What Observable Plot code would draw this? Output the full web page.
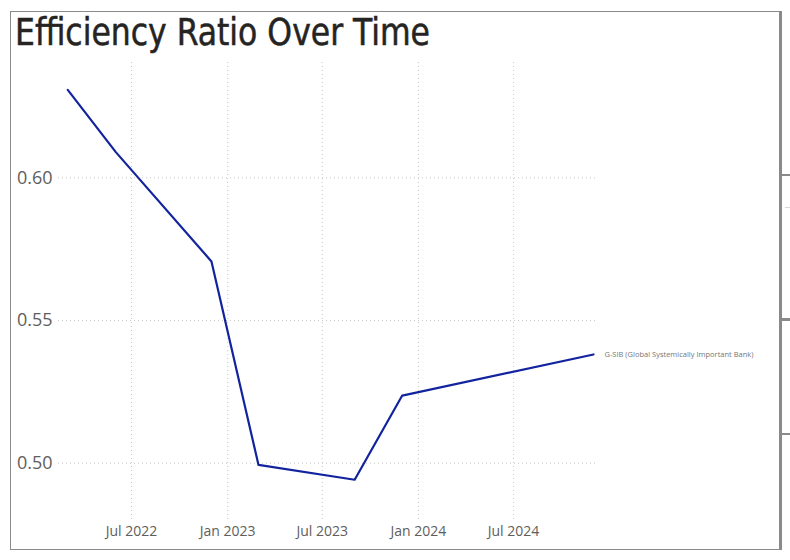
<!DOCTYPE html>
<html><head><meta charset="utf-8">
<script src="https://cdn.jsdelivr.net/npm/d3@7"></script>
<script src="https://cdn.jsdelivr.net/npm/@observablehq/plot@0.6"></script>
<style>
html,body{margin:0;padding:0;background:#fff}
body{width:790px;height:560px;overflow:hidden;position:relative;font-family:"Open Sans","Noto Sans",sans-serif}
#frame{position:absolute;left:10px;top:11px;width:769px;height:537px;border:1px solid #8a8a8a;border-right:none;box-sizing:content-box}
#rbar{position:absolute;left:779px;top:11px;width:3px;height:539px;background:#8a8a8a}
.tk{position:absolute;left:782px;width:8px;background:#8a8a8a}
#title{position:absolute;left:15px;top:11px;font-family:"DejaVu Sans Condensed","DejaVu Sans",sans-serif;font-size:37px;line-height:44px;color:#252423;white-space:nowrap;transform-origin:0 0;-webkit-text-stroke:0.5px #252423}
#chart{position:absolute;left:0;top:60px}
</style></head>
<body>
<div id="frame"></div>
<div id="rbar"></div>
<div class="tk" style="top:174px;height:2px"></div>
<div class="tk" style="top:207px;height:1px;left:785px;width:5px;background:#d8d8d8"></div>
<div class="tk" style="top:318px;height:3px"></div>
<div class="tk" style="top:433px;height:2px"></div>
<div id="title">Efficiency Ratio Over Time</div>
<div id="chart"></div>
<script>
// Data
const dates = ["2022-03-01","2022-06-01","2022-12-01","2023-03-01","2023-09-01","2023-12-01","2024-12-01"];
const ratios = [0.6308, 0.6090, 0.5707, 0.4994, 0.4942, 0.5237, 0.5381];
const seriesName = "G-SIB (Global Systemically Important Bank)";
const xTicks = ["2022-07-01","2023-01-01","2023-07-01","2024-01-01","2024-07-01"];
const xTickLabels = ["Jul 2022","Jan 2023","Jul 2023","Jan 2024","Jul 2024"];
const yTicks = [0.50, 0.55, 0.60];
const yTickLabels = ["0.50","0.55","0.60"];

const data = dates.map((d, i) => ({date: new Date(d), value: ratios[i], series: seriesName}));
const xTickDates = xTicks.map(d => new Date(d));
const last = data[data.length - 1];

const chart = Plot.plot({
  width: 790,
  height: 500,
  marginLeft: 58,
  marginRight: 193,
  marginTop: 2,
  marginBottom: 40,
  style: {background: "transparent", overflow: "visible"},
  x: {type: "utc", label: null, domain: [new Date(dates[0]), new Date(dates[dates.length - 1])], range: [67.25, 593]},
  y: {label: null, domain: [0.50, 0.60], range: [402.7, 117.3]},
  marks: [
    Plot.gridX(xTickDates, {stroke: "#c8c8c8", strokeOpacity: 1, strokeDasharray: "1,3", strokeWidth: 1}),
    Plot.gridY(yTicks, {stroke: "#c8c8c8", strokeOpacity: 1, strokeDasharray: "1,3", strokeWidth: 1}),
    Plot.axisY(yTicks, {label: null, tickSize: 0, tickPadding: 6, fontSize: 18, fill: "#605e5c", fontFamily: "Open Sans",
      tickFormat: (d) => yTickLabels[yTicks.indexOf(d)]}),
    Plot.axisX(xTickDates, {label: null, tickSize: 0, tickPadding: 6, fontSize: 14, fill: "#605e5c", fontFamily: "Open Sans",
      tickFormat: (d) => xTickLabels[xTickDates.findIndex(t => +t === +d)]}),
    Plot.line(data, {x: "date", y: "value", stroke: "#12239e", strokeWidth: 2.2, curve: "linear"}),
    Plot.text([last], {x: "date", y: "value", text: "series", dx: 11, textAnchor: "start",
      fontSize: 7.5, fill: "#777", fontFamily: "Open Sans"})
  ]
});
document.getElementById("chart").appendChild(chart);

// fit title to reference width
const t = document.getElementById("title");
const w = t.getBoundingClientRect().width;
t.style.transform = `scaleX(${415 / w})`;
</script>
</body></html>
